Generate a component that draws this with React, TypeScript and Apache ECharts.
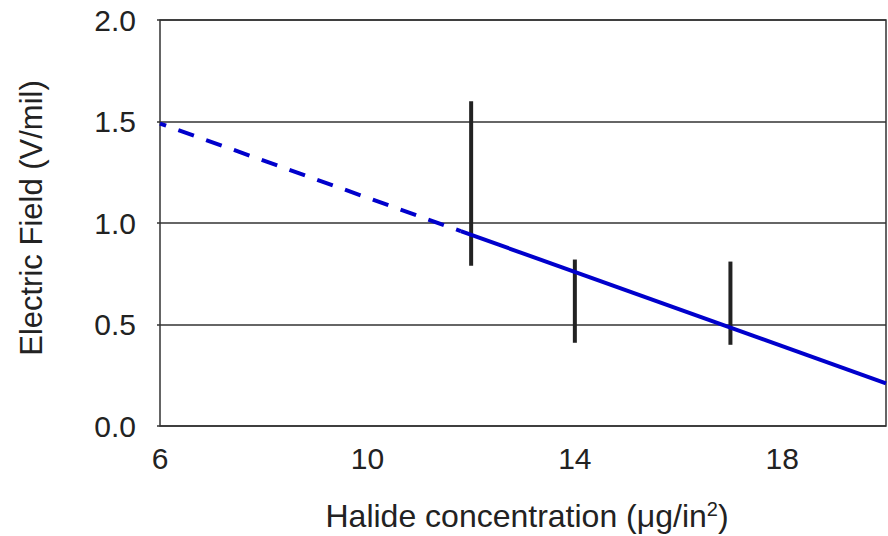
import React, { useEffect, useRef } from "react";
import * as echarts from "echarts";

const xTicks = [6, 10, 14, 18];
const yTicks = [0, 0.5, 1.0, 1.5, 2.0];
// fitted line: dashed (extrapolated) part and solid part
const dashedLine = [
  [6, 1.49],
  [11.8, 0.96],
];
const solidLine = [
  [11.8, 0.96],
  [20, 0.21],
];
// error bars: [x, low, high]
const errorBars = [
  [12, 0.79, 1.6],
  [14, 0.41, 0.82],
  [17, 0.4, 0.81],
];
const xName = "Halide concentration (μg/in";
const xNameSup = "2";
const yName = "Electric Field (V/mil)";

export default function App() {
  const ref = useRef<HTMLDivElement>(null);
  useEffect(() => {
    if (!ref.current) return;
    const chart = echarts.init(ref.current, null, { renderer: "svg" });
    const font = "'Liberation Sans', Arial, sans-serif";
    chart.setOption({
      animation: false,
      grid: {
        left: 160,
        top: 20,
        right: 2,
        bottom: 110,
        show: true,
        borderColor: "#333",
        borderWidth: 1.5,
        containLabel: false,
      },
      xAxis: {
        type: "value",
        min: 6,
        max: 20,
        axisLine: { show: false },
        axisTick: { show: false, customValues: xTicks },
        splitLine: { show: false },
        axisLabel: {
          customValues: xTicks,
          fontSize: 30,
          fontFamily: font,
          color: "#222",
          margin: 17,
        },
      },
      yAxis: {
        type: "value",
        min: yTicks[0],
        max: yTicks[yTicks.length - 1],
        interval: 0.5,
        axisLine: { show: false },
        axisTick: { show: true, length: 3, lineStyle: { color: "#333", width: 1.5 } },
        splitLine: { show: true, lineStyle: { color: "#333", width: 1.5 } },
        axisLabel: {
          fontSize: 30,
          fontFamily: font,
          color: "#222",
          margin: 24,
          formatter: (v: number) => v.toFixed(1),
        },
      },
      graphic: [
        {
          type: "text",
          x: 527,
          y: 499,
          style: {
            text: "{a|" + xName + "}{b|" + xNameSup + "}{a|)}",
            align: "center",
            verticalAlign: "top",
            rich: {
              a: { fontSize: 32, fontFamily: font, fill: "#222", color: "#222" },
              b: { fontSize: 20, fontFamily: font, fill: "#222", color: "#222", padding: [0, 0, 14, 0] },
            },
            fill: "#222",
          },
        },
        {
          type: "text",
          x: 31,
          y: 218,
          rotation: Math.PI / 2,
          style: {
            text: yName,
            fontSize: 31,
            fontFamily: font,
            fill: "#222",
            align: "center",
            verticalAlign: "middle",
          },
        },
      ],
      series: [
        {
          type: "custom",
          z: 2,
          data: errorBars,
          renderItem: (params: any, api: any) => {
            const p1 = api.coord([api.value(0), api.value(1)]);
            const p2 = api.coord([api.value(0), api.value(2)]);
            return {
              type: "line",
              shape: { x1: p1[0], y1: p1[1], x2: p2[0], y2: p2[1] },
              style: { stroke: "#222", lineWidth: 4 },
            };
          },
        },
        {
          type: "line",
          z: 3,
          data: dashedLine,
          symbol: "none",
          lineStyle: { color: "#0000cc", width: 4, type: [16.5, 13], dashOffset: 10 },
        },
        {
          type: "line",
          z: 3,
          data: solidLine,
          symbol: "none",
          lineStyle: { color: "#0000cc", width: 4 },
        },
      ],
    });
    return () => chart.dispose();
  }, []);
  return (
    <div
      ref={ref}
      style={{ position: "absolute", left: 0, top: 0, width: 888, height: 536 }}
    />
  );
}
